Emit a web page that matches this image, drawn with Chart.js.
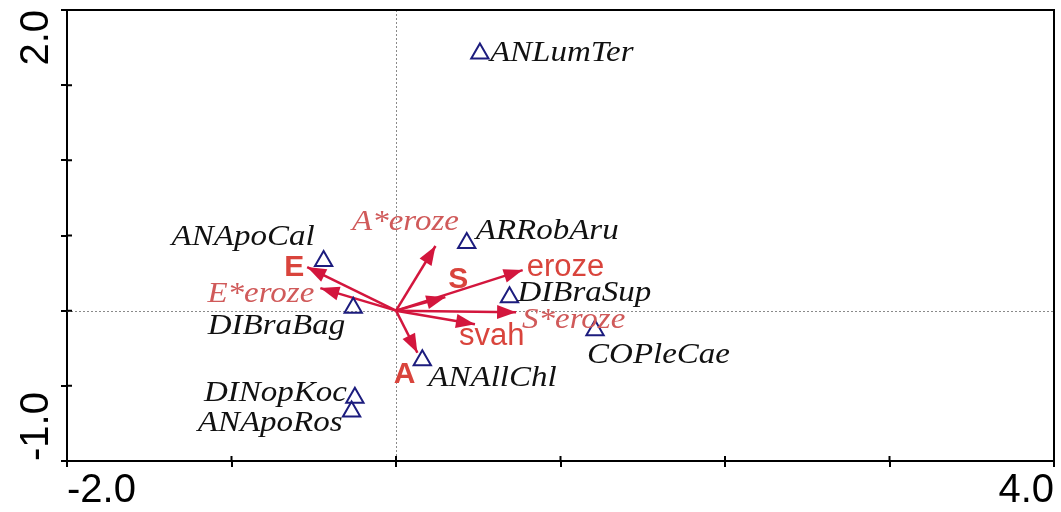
<!DOCTYPE html>
<html>
<head>
<meta charset="utf-8">
<script src="https://cdn.jsdelivr.net/npm/chart.js@4.4.1/dist/chart.umd.min.js"></script>
<style>
  html, body { margin: 0; padding: 0; background: #fff; }
  #wrap { width: 1061px; height: 512px; }
</style>
</head>
<body>
<div id="wrap"><canvas id="grafico"></canvas></div>
<script>
// species scores (triangles)
var species = ["ANLumTer", "ARRobAru", "ANApoCal", "DIBraSup", "DIBraBag", "COPleCae", "ANAllChl", "DINopKoc", "ANApoRos"];
var speciesX = [0.51, 0.43, -0.44, 0.69, -0.26, 1.21, 0.16, -0.25, -0.27];
var speciesY = [1.71, 0.45, 0.33, 0.09, 0.02, -0.13, -0.33, -0.58, -0.67];

// environmental variables (arrows from origin)
var arrows = ["E", "E*eroze", "A*eroze", "S", "eroze", "S*eroze", "svah", "A"];
var arrowX = [-0.54, -0.46, 0.24, 0.30, 0.77, 0.73, 0.48, 0.13];
var arrowY = [0.29, 0.15, 0.43, 0.09, 0.27, -0.01, -0.09, -0.28];

// axis ranges
var xRange = [-2, 4];
var yRange = [-1, 2];

// label placement (pixels, relative to the mark) -- layout only
var speciesLabelPos = [
  [10, 7, "left"], [9, -4, "left"], [-9, -16, "right"], [8, 4, "left"], [-8, 26, "right"],
  [-8, 33, "left"], [6, 26, "left"], [-8, 3, "right"], [-9, 20, "right"]
];
var arrowLabelPos = [
  [-3, 9, "right"], [-6, 14, "right"], [-30, -16, "center"], [13, -9, "center"],
  [4, 6, "left"], [6, 16, "left"], [-16, 21, "left"], [-2, 30, "right"]
];
var arrowLabelKind = ["bold", "star", "star", "bold", "sans", "star", "sans", "bold"];

var arrowColor = "#d3163d";
var serifStretch = 1.1;
var serifFont = "italic 30px 'Liberation Serif', 'Times New Roman', serif";

function drawText(ctx, txt, x, y, align, font, color, stretch) {
  ctx.save();
  ctx.translate(x, y);
  ctx.scale(stretch, 1);
  ctx.font = font;
  ctx.fillStyle = color;
  ctx.textAlign = align;
  ctx.textBaseline = "alphabetic";
  ctx.fillText(txt, 0, 0);
  ctx.restore();
}

var biplot = {
  id: "biplot",
  beforeDatasetsDraw: function (chart) {
    var ctx = chart.ctx, a = chart.chartArea;
    var sx = chart.scales.x, sy = chart.scales.y;
    ctx.save();
    ctx.strokeStyle = "#8a8a8a";
    ctx.lineWidth = 1;
    ctx.setLineDash([2, 2]);
    var x0 = Math.round(sx.getPixelForValue(0)) + 0.5;
    var y0 = Math.round(sy.getPixelForValue(0)) + 0.5;
    ctx.beginPath();
    ctx.moveTo(x0, a.top); ctx.lineTo(x0, a.bottom);
    ctx.moveTo(a.left, y0); ctx.lineTo(a.right, y0);
    ctx.stroke();
    ctx.restore();
  },
  afterDatasetsDraw: function (chart) {
    var ctx = chart.ctx;
    var sx = chart.scales.x, sy = chart.scales.y;
    var ox = sx.getPixelForValue(0), oy = sy.getPixelForValue(0);
    // arrow heads
    ctx.save();
    ctx.fillStyle = arrowColor;
    arrows.forEach(function (n, i) {
      var tx = sx.getPixelForValue(arrowX[i]), ty = sy.getPixelForValue(arrowY[i]);
      var ang = Math.atan2(ty - oy, tx - ox);
      var L = 19, W = 7;
      var bx = tx - L * Math.cos(ang), by = ty - L * Math.sin(ang);
      ctx.beginPath();
      ctx.moveTo(tx, ty);
      ctx.lineTo(bx - W * Math.sin(ang), by + W * Math.cos(ang));
      ctx.lineTo(bx + W * Math.sin(ang), by - W * Math.cos(ang));
      ctx.closePath();
      ctx.fill();
    });
    ctx.restore();
    // species labels
    species.forEach(function (n, i) {
      var p = speciesLabelPos[i];
      drawText(ctx, n, sx.getPixelForValue(speciesX[i]) + p[0], sy.getPixelForValue(speciesY[i]) + p[1],
        p[2], serifFont, "#111", serifStretch);
    });
    // arrow labels
    arrows.forEach(function (n, i) {
      var p = arrowLabelPos[i];
      var x = sx.getPixelForValue(arrowX[i]) + p[0], y = sy.getPixelForValue(arrowY[i]) + p[1];
      var k = arrowLabelKind[i];
      if (k === "bold") {
        drawText(ctx, n, x, y, p[2], "bold 30px 'Liberation Sans', Arial, sans-serif", "#d9443c", 1);
      } else if (k === "sans") {
        drawText(ctx, n, x, y, p[2], "31px 'Liberation Sans', Arial, sans-serif", "#d9443c", 1);
      } else {
        drawText(ctx, n, x, y, p[2], serifFont, "#d05a5a", serifStretch);
      }
    });
  },
  afterDraw: function (chart) {
    var ctx = chart.ctx, a = chart.chartArea;
    var sx = chart.scales.x, sy = chart.scales.y;
    ctx.save();
    ctx.strokeStyle = "#000";
    ctx.lineWidth = 2;
    ctx.beginPath();
    ctx.moveTo(a.left, a.top); ctx.lineTo(a.right, a.top); ctx.lineTo(a.right, a.bottom);
    // inner part of the tick marks
    sx.ticks.forEach(function (t) {
      var px = sx.getPixelForValue(t.value);
      ctx.moveTo(px, a.bottom); ctx.lineTo(px, a.bottom - 5);
    });
    sy.ticks.forEach(function (t) {
      var py = sy.getPixelForValue(t.value);
      ctx.moveTo(a.left, py); ctx.lineTo(a.left + 5, py);
    });
    ctx.stroke();
    // rotated y labels at both ends
    ctx.font = "40px 'Liberation Sans', Arial, sans-serif";
    ctx.fillStyle = "#000";
    ctx.textBaseline = "alphabetic";
    [[yRange[1], "right"], [yRange[0], "left"]].forEach(function (e) {
      ctx.save();
      ctx.translate(48, sy.getPixelForValue(e[0]));
      ctx.rotate(-Math.PI / 2);
      ctx.textAlign = e[1];
      ctx.fillText(e[0].toFixed(1), 0, 0);
      ctx.restore();
    });
    ctx.restore();
  }
};

var datasets = [{
  type: "scatter",
  data: species.map(function (n, i) { return { x: speciesX[i], y: speciesY[i] }; }),
  pointStyle: "triangle",
  pointRadius: 10,
  borderWidth: 2,
  borderColor: "#1c1c7e",
  backgroundColor: "rgba(0,0,0,0)"
}];
arrows.forEach(function (n, i) {
  datasets.push({
    type: "line",
    data: [{ x: 0, y: 0 }, { x: arrowX[i], y: arrowY[i] }],
    borderColor: arrowColor,
    borderWidth: 2.5,
    pointRadius: 0,
    fill: false
  });
});

new Chart(document.getElementById("grafico").getContext("2d"), {
  type: "scatter",
  data: { datasets: datasets },
  plugins: [biplot],
  options: {
    responsive: true,
    maintainAspectRatio: false,
    animation: false,
    events: [],
    layout: { autoPadding: false, padding: { top: 10, right: 7, left: 0, bottom: 0 } },
    plugins: { legend: { display: false }, tooltip: { enabled: false } },
    scales: {
      x: {
        type: "linear",
        min: xRange[0],
        max: xRange[1],
        afterFit: function (s) { s.height = 51; },
        border: { color: "#000", width: 2 },
        grid: { drawOnChartArea: false, drawTicks: true, tickLength: 6, color: "#000", lineWidth: 2 },
        ticks: {
          stepSize: 1,
          autoSkip: false,
          maxRotation: 0,
          align: "inner",
          padding: 0,
          color: "#000",
          font: { size: 40, family: "'Liberation Sans', Arial, sans-serif" },
          callback: function (v) { return (v === xRange[0] || v === xRange[1]) ? v.toFixed(1) : ""; }
        }
      },
      y: {
        type: "linear",
        min: yRange[0],
        max: yRange[1],
        afterFit: function (s) { s.width = 67; },
        border: { color: "#000", width: 2 },
        grid: { drawOnChartArea: false, drawTicks: true, tickLength: 6, color: "#000", lineWidth: 2 },
        ticks: { stepSize: 0.5, display: false }
      }
    }
  }
});
</script>
</body>
</html>
